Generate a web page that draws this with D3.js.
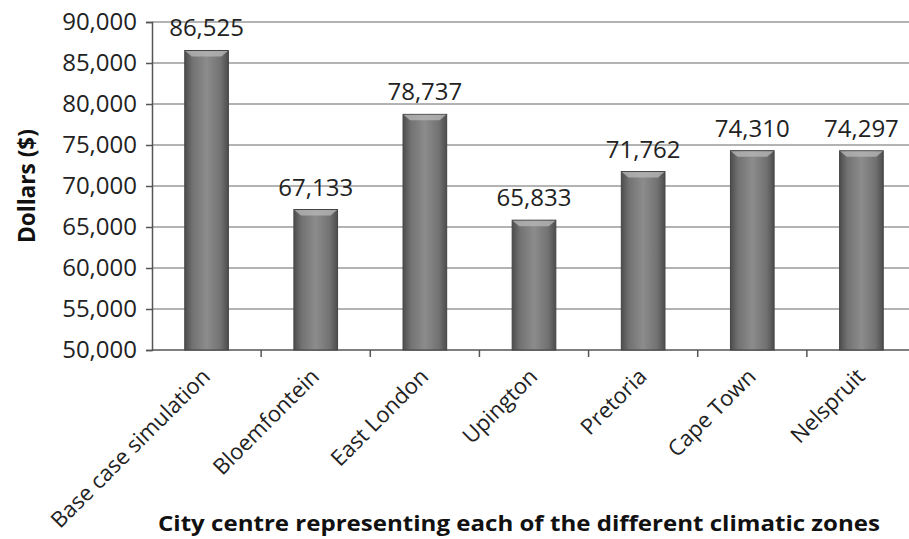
<!DOCTYPE html>
<html>
<head>
<meta charset="utf-8">
<script src="https://cdn.jsdelivr.net/npm/d3@7"></script>
<style>
  body { margin: 0; background: #fff; }
  svg { display: block; }
</style>
</head>
<body>
<div id="chart"></div>
<script>
// chart data
const cities = ["Base case simulation", "Bloemfontein", "East London", "Upington", "Pretoria", "Cape Town", "Nelspruit"];
const costs = [86525, 67133, 78737, 65833, 71762, 74310, 74297];
const yTicks = [50000, 55000, 60000, 65000, 70000, 75000, 80000, 85000, 90000];

const width = 909, height = 539;
const margin = { left: 152, top: 22, bottom: 189 };

const svg = d3.select('#chart').append('svg')
    .attr('width', width)
    .attr('height', height);

// gradient for the bars
const defs = svg.append('defs');
const grad = defs.append('linearGradient').attr('id', 'barGrad')
    .attr('x1', 0).attr('x2', 1).attr('y1', 0).attr('y2', 0);
grad.append('stop').attr('offset', '0%').attr('stop-color', '#4d4d4d');
grad.append('stop').attr('offset', '18%').attr('stop-color', '#727272');
grad.append('stop').attr('offset', '50%').attr('stop-color', '#8c8c8c');
grad.append('stop').attr('offset', '82%').attr('stop-color', '#727272');
grad.append('stop').attr('offset', '100%').attr('stop-color', '#4d4d4d');

const x = d3.scaleBand()
    .domain(cities)
    .range([margin.left, 916])
    .paddingInner(0.6)
    .paddingOuter(0.3);

const y = d3.scaleLinear()
    .domain([50000, 90000])
    .range([height - margin.bottom, margin.top]);

const fmt = d3.format(',');

// gridlines
svg.append('g')
    .selectAll('line')
    .data(yTicks.slice(1))
    .enter().append('line')
    .attr('x1', margin.left)
    .attr('x2', width)
    .attr('y1', d => y(d))
    .attr('y2', d => y(d))
    .attr('stroke', '#9a9a9a')
    .attr('stroke-width', 1.5);

// y axis
const yAxis = svg.append('g')
    .attr('transform', `translate(${margin.left},0)`)
    .call(d3.axisLeft(y).tickValues(yTicks).tickFormat(fmt).tickSize(6).tickPadding(9));
yAxis.select('.domain').attr('stroke', '#555').attr('stroke-width', 1.5);
yAxis.selectAll('.tick line').attr('stroke', '#555').attr('stroke-width', 1.5);
yAxis.selectAll('text')
    .attr('font-family', 'Open Sans, sans-serif')
    .attr('font-size', 24)
    .attr('fill', '#222');

// x axis with ticks between categories
const xAxisG = svg.append('g')
    .attr('transform', `translate(0,${y(50000)})`);
xAxisG.append('line')
    .attr('x1', margin.left).attr('x2', width)
    .attr('stroke', '#555').attr('stroke-width', 1.5);
xAxisG.selectAll('line.sep')
    .data(cities.slice(1))
    .enter().append('line')
    .attr('class', 'sep')
    .attr('x1', d => x(d) - x.step() * x.paddingInner() / 2)
    .attr('x2', d => x(d) - x.step() * x.paddingInner() / 2)
    .attr('y1', 0).attr('y2', 7)
    .attr('stroke', '#555').attr('stroke-width', 1.5);

xAxisG.selectAll('text.cat')
    .data(cities)
    .enter().append('text')
    .attr('class', 'cat')
    .attr('transform', d => `translate(${x(d) + x.bandwidth() / 2 - 6},17) rotate(-45)`)
    .attr('text-anchor', 'end')
    .attr('dy', '0.7em')
    .attr('font-family', 'Open Sans, sans-serif')
    .attr('font-size', 22)
    .attr('fill', '#222')
    .text(d => d);

// bars
const bars = svg.append('g');
bars.selectAll('rect')
    .data(costs)
    .enter().append('rect')
    .attr('x', (d, i) => x(cities[i]))
    .attr('y', d => y(d))
    .attr('width', x.bandwidth())
    .attr('height', d => y(50000) - y(d))
    .attr('fill', 'url(#barGrad)')
    .attr('stroke', '#444')
    .attr('stroke-width', 1);

// bevel highlight at top of bars
bars.selectAll('path.bevel')
    .data(costs)
    .enter().append('path')
    .attr('class', 'bevel')
    .attr('d', (d, i) => {
        const x0 = x(cities[i]), w = x.bandwidth(), t = y(d);
        return `M${x0 + 0.5},${t + 0.5} L${x0 + w - 0.5},${t + 0.5} L${x0 + w - 7},${t + 6} L${x0 + 7},${t + 6} Z`;
    })
    .attr('fill', '#b5b5b5')
    .attr('opacity', 0.8);

// value labels
svg.append('g').selectAll('text')
    .data(costs)
    .enter().append('text')
    .attr('x', (d, i) => x(cities[i]) + x.bandwidth() / 2)
    .attr('y', d => y(d) - 14)
    .attr('text-anchor', 'middle')
    .attr('font-family', 'Open Sans, sans-serif')
    .attr('font-size', 24)
    .attr('fill', '#222')
    .text(d => fmt(d));

// axis titles
svg.append('text')
    .attr('transform', `translate(35,${y(70000)}) rotate(-90)`)
    .attr('text-anchor', 'middle')
    .attr('font-family', 'Open Sans, sans-serif')
    .attr('font-weight', 'bold')
    .attr('font-size', 23)
    .attr('textLength', 114)
    .attr('lengthAdjust', 'spacingAndGlyphs')
    .attr('fill', '#111')
    .text('Dollars ($)');

svg.append('text')
    .attr('x', 519)
    .attr('y', 531)
    .attr('text-anchor', 'middle')
    .attr('font-family', 'Open Sans, sans-serif')
    .attr('font-weight', 'bold')
    .attr('font-size', 22)
    .attr('textLength', 722)
    .attr('lengthAdjust', 'spacingAndGlyphs')
    .attr('fill', '#111')
    .text('City centre representing each of the different climatic zones');
</script>
</body>
</html>
